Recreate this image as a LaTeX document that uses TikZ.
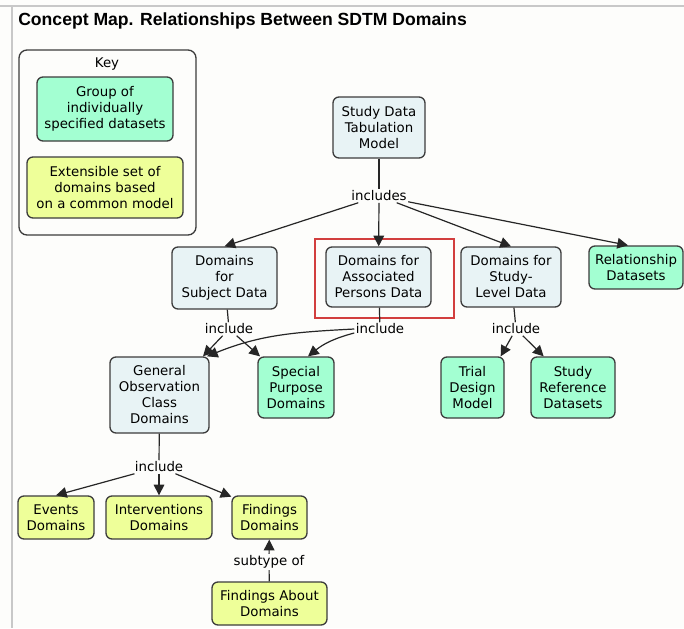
\documentclass[tikz,border=0pt]{standalone}
\usepackage{fontspec}
\setmainfont{DejaVu Sans}
\newfontfamily\titlefont{Liberation Sans}
\usetikzlibrary{arrows.meta}

\definecolor{bgpaper}{RGB}{253,253,251}
\definecolor{framegray}{RGB}{200,200,200}
\definecolor{cborder}{RGB}{60,60,60}
\definecolor{conblue}{RGB}{232,243,245}
\definecolor{grpgreen}{RGB}{163,255,210}
\definecolor{extyellow}{RGB}{238,255,153}
\definecolor{markred}{RGB}{210,62,62}

\tikzset{
  concept/.style={draw=cborder, line width=1pt, rounded corners=4.5pt,
    align=center, inner sep=0pt, font=\fontsize{10}{12}\selectfont},
  basebox/.style={concept, fill=conblue},
  groupbox/.style={concept, fill=grpgreen},
  extbox/.style={concept, fill=extyellow},
  linkname/.style={fill=bgpaper, inner sep=1pt, font=\fontsize{10}{12}\selectfont},
  link/.style={line width=0.9pt, draw=black!85},
  linkto/.style={link, -{Triangle[length=8pt,width=8pt]}},
}

\begin{document}
\begin{tikzpicture}[x=0.75pt,y=-0.75pt]
    \useasboundingbox (0,0) rectangle (684,628);
    \fill[bgpaper] (0,0) rectangle (684,628);

    % page frame
    \draw[framegray, line width=1.5pt] (0,5.5) -- (684,5.5);
    \draw[framegray, line width=1.5pt] (11.5,5.5) -- (11.5,628);

    \node[anchor=base west, inner sep=0pt,
      font=\titlefont\bfseries\fontsize{13.2}{16}\selectfont] (title) at (18,25.5)
      {Concept Map. Relationships Between SDTM Domains};

    % key
    \node[draw=cborder, line width=1pt, rounded corners=6pt,
      minimum width=132.75pt, minimum height=138.75pt] (keybox) at (107.5,142.5) {};
    \node[font=\fontsize{10}{12}\selectfont] (keytitle) at (107,64) {Key};
    \node[groupbox, minimum width=102pt, minimum height=48pt] (keygroup) at (105,109)
      {Group of\\individually\\specified datasets};
    \node[extbox, minimum width=117pt, minimum height=45.75pt] (keyext) at (105,187.5)
      {Extensible set of\\domains based\\on a common model};

    % concepts
    \node[basebox, minimum width=69pt, minimum height=45.75pt] (sdtm) at (379,127.5)
      {Study Data\\Tabulation\\Model};
    \node[basebox, minimum width=78.75pt, minimum height=46.5pt] (subj) at (224.5,278)
      {Domains\\for\\Subject Data};
    \node[basebox, minimum width=78.75pt, minimum height=45pt] (assoc) at (378.5,277)
      {Domains for\\Associated\\Persons Data};
    \node[basebox, minimum width=75pt, minimum height=45pt] (slevel) at (511,277)
      {Domains for\\Study-\\Level Data};
    \node[groupbox, minimum width=70.5pt, minimum height=32.25pt] (rel) at (636,267.5)
      {Relationship\\Datasets};

    \node[basebox, minimum width=74.25pt, minimum height=57pt] (genobs) at (159.5,395)
      {General\\Observation\\Class\\Domains};
    \node[groupbox, minimum width=57pt, minimum height=45.75pt] (spec) at (296,387.5)
      {Special\\Purpose\\Domains};
    \node[groupbox, minimum width=47.25pt, minimum height=45.75pt] (trial) at (472.5,387.5)
      {Trial\\Design\\Model};
    \node[groupbox, minimum width=63pt, minimum height=45.75pt] (sref) at (573,387.5)
      {Study\\Reference\\Datasets};

    \node[extbox, minimum width=57pt, minimum height=32.25pt] (events) at (56,517.5)
      {Events\\Domains};
    \node[extbox, minimum width=79.5pt, minimum height=32.25pt] (interv) at (159,517.5)
      {Interventions\\Domains};
    \node[extbox, minimum width=56.25pt, minimum height=32.25pt] (find) at (269.5,517.5)
      {Findings\\Domains};
    \node[extbox, minimum width=86.25pt, minimum height=32.25pt] (fa) at (269.5,603.5)
      {Findings About\\Domains};

    % highlight
    \draw[markred, line width=2pt] (315,239) rectangle (454,318);

    % link names
    \node[linkname] (incl) at (379,196) {includes};
    \node[linkname] (inca) at (229,329) {include};
    \node[linkname] (incb) at (380,329) {include};
    \node[linkname] (incc) at (516,329) {include};
    \node[linkname] (incd) at (159,467) {include};
    \node[linkname] (subt) at (269,562) {subtype of};

    % links
    \draw[link] (sdtm) -- (incl);
    \draw[linkto] (incl) -- (subj.north);
    \draw[linkto] (incl) -- (assoc);
    \draw[linkto] (incl) -- (slevel.north);
    \draw[linkto] (incl) -- ([xshift=-6pt]rel.north);

    \draw[link] (subj) -- (inca);
    \draw[linkto] (inca) -- ([xshift=-5pt]genobs.north east);
    \draw[linkto] (inca) -- ([xshift=2pt]spec.north west);

    \draw[link] (assoc) -- (incb);
    \draw[linkto] (incb.west) to[out=183,in=22] ([xshift=-2pt]genobs.north east);
    \draw[linkto] (incb) to[bend right=12] ([xshift=9pt]spec.north);

    \draw[link] (slevel) -- (incc);
    \draw[linkto] (incc) -- ([xshift=-3pt]trial.north east);
    \draw[linkto] (incc) -- ([xshift=10pt]sref.north west);

    \draw[link] (genobs) -- (incd);
    \draw[linkto] (incd) -- (events.north);
    \draw[linkto] (incd) -- (interv);
    \draw[linkto] (incd) -- ([yshift=-1pt]find.north west);

    \draw[link] (fa) -- (subt);
    \draw[linkto] (subt) -- (find);
\end{tikzpicture}
\end{document}
